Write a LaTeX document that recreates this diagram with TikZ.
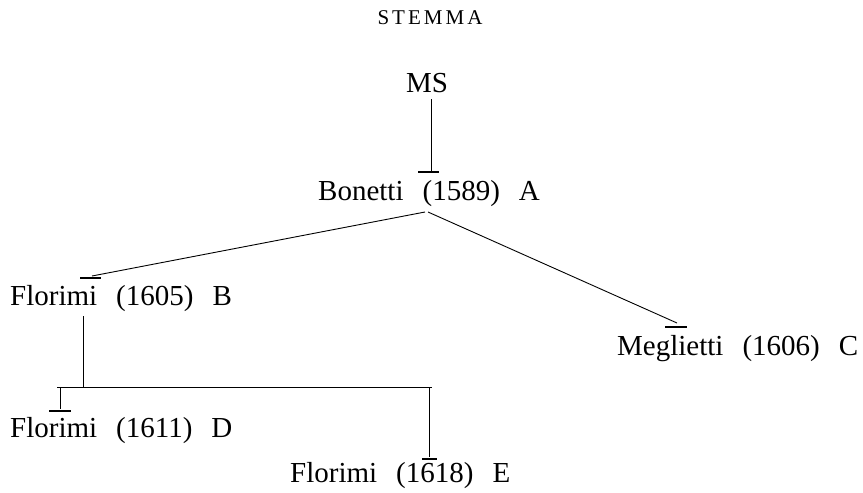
\documentclass[tikz,border=0pt]{standalone}
\usepackage{fontspec}
\setmainfont{Liberation Serif}
\newcommand\lblfont{\fontsize{29}{34}\selectfont\setlength{\spaceskip}{19pt plus 2pt minus 1pt}}
\begin{document}
\begin{tikzpicture}[x=1pt,y=-1pt,
  lbl/.style={inner sep=0pt,font=\lblfont},
  conn/.style={line width=0.9pt},
  teebar/.style={line width=1.1pt}]
\useasboundingbox (0,0) rectangle (863,493);
% texts
\node[inner sep=0pt,anchor=base,font=\fontsize{21}{24}\selectfont] (title) at (430,24)
  {S\kern3pt T\kern3pt E\kern3pt M\kern3pt M\kern3pt A};
\node[lbl,anchor=base] (ms) at (427,92) {MS};
\node[lbl,anchor=base west] (a) at (318,200) {Bonetti (1589) A};
\node[lbl,anchor=base west] (b) at (10,305) {Florimi (1605) B};
\node[lbl,anchor=base west] (c) at (617,355) {Meglietti (1606) C};
\node[lbl,anchor=base west] (d) at (10,437) {Florimi (1611) D};
\node[lbl,anchor=base west] (e) at (290,482) {Florimi (1618) E};
% connector points
\coordinate (ms-out) at ([xshift=4pt,yshift=-7pt]ms.base);
\coordinate (a-in) at (431,172);
\coordinate (a-outl) at (425,212);
\coordinate (a-outr) at (428,212);
\coordinate (b-in) at (92,276);
\coordinate (c-in) at (677,323);
\coordinate (b-out) at (83,316);
\coordinate (split) at (83,387);
\coordinate (d-in) at (60,409);
\coordinate (e-in) at (429,457);
% MS -> A
\draw[conn] (ms-out) -- (a-in);
\draw[teebar] ([xshift=-13pt]a-in) -- ([xshift=8pt]a-in);
% A -> B
\draw[conn] (a-outl) -- (b-in);
\draw[teebar] ([shift={(-12pt,-2pt)}]b-in) -- ([shift={(9pt,-2pt)}]b-in);
% A -> C
\draw[conn] (a-outr) -- (c-in);
\draw[teebar] ([shift={(-12pt,-4pt)}]c-in) -- ([shift={(10pt,-4pt)}]c-in);
% B -> D, E
\draw[conn] (b-out) -- (split);
\draw[conn] ([xshift=-26pt]split) -- ([xshift=349pt]split);
\draw[conn] (split -| d-in) -- (d-in);
\draw[teebar] ([shift={(-11pt,-2pt)}]d-in) -- ([shift={(11pt,-2pt)}]d-in);
\draw[conn] (split -| e-in) -- (e-in);
\draw[teebar] ([shift={(-7pt,-2pt)}]e-in) -- ([shift={(8pt,-2pt)}]e-in);
\end{tikzpicture}
\end{document}
